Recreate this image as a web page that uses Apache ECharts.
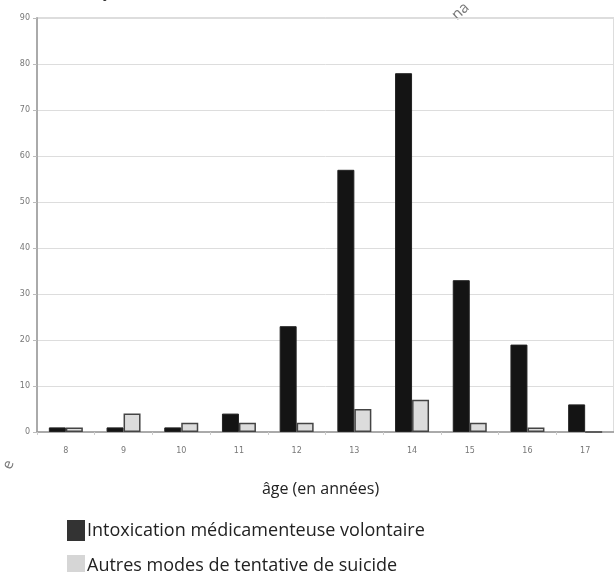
<!DOCTYPE html>
<html>
<head>
<meta charset="utf-8">
<script src="https://cdn.jsdelivr.net/npm/echarts@6/dist/echarts.min.js"></script>
<style>
html,body{margin:0;padding:0;background:#fff;}
#c{width:614px;height:572px;}
</style>
</head>
<body>
<div id="c"></div>
<script>
const categories = ['8','9','10','11','12','13','14','15','16','17'];
const seriesNames = ['Intoxication médicamenteuse volontaire', 'Autres modes de tentative de suicide'];
const intoxication = [1, 1, 1, 4, 23, 57, 78, 33, 19, 6];
const autres = [1, 4, 2, 2, 2, 5, 7, 2, 1, 0];
const yTicks = [0, 10, 20, 30, 40, 50, 60, 70, 80, 90];
const xAxisName = 'âge (en années)';
const yAxisName = 'Nombre de sujets';

const legendCommon = {
  orient: 'horizontal',
  left: 62,
  icon: 'rect',
  itemWidth: 18,
  itemHeight: 21,
  textStyle: {fontFamily: 'Open Sans', fontSize: 18, color: '#222', padding: [0, 0, 0, -3]}
};

const chart = echarts.init(document.getElementById('c'), null, {renderer: 'canvas'});
chart.setOption({
  animation: false,
  backgroundColor: '#fff',
  grid: {left: 37, top: 18, bottom: 140, right: -10, show: true, borderColor: '#bbb', borderWidth: 1, backgroundColor: 'transparent'},
  xAxis: {
    type: 'category',
    data: categories,
    name: xAxisName,
    nameLocation: 'middle',
    nameGap: 49,
    nameTextStyle: {fontFamily: 'Open Sans', fontSize: 16, color: '#222', padding: [0, 0, 0, -10]},
    axisLine: {lineStyle: {color: '#999', width: 1.5}},
    axisTick: {show: true, length: 3, lineStyle: {color: '#ccc'}},
    axisLabel: {fontFamily: 'DejaVu Sans', fontSize: 8, color: '#777', margin: 15}
  },
  yAxis: {
    type: 'value',
    min: yTicks[0],
    max: yTicks[yTicks.length - 1],
    interval: 10,
    axisLine: {show: true, lineStyle: {color: '#aaa', width: 2}},
    axisTick: {show: true, length: 4, lineStyle: {color: '#bbb'}},
    axisLabel: {fontFamily: 'DejaVu Sans', fontSize: 8, color: '#777', margin: 7},
    splitLine: {lineStyle: {color: '#ddd', width: 1}}
  },
  legend: [
    Object.assign({}, legendCommon, {
      top: 515,
      data: [{name: seriesNames[0], itemStyle: {color: '#333', borderWidth: 0}}]
    }),
    Object.assign({}, legendCommon, {
      top: 550,
      data: [{name: seriesNames[1], itemStyle: {color: '#d6d6d6', borderWidth: 0}}]
    })
  ],
  series: [
    {
      name: seriesNames[0],
      type: 'bar',
      data: intoxication,
      barWidth: 17,
      barGap: '0%',
      itemStyle: {color: '#141414', borderColor: '#222', borderWidth: 1}
    },
    {
      name: seriesNames[1],
      type: 'bar',
      data: autres,
      barWidth: 17,
      itemStyle: {color: '#dcdcdc', borderColor: '#444', borderWidth: 1.5}
    }
  ],
  graphic: [
    {type: 'text', left: -2, top: -16, style: {text: yAxisName, font: '16px "Open Sans"', fill: '#333'}},
    {type: 'text', x: 449, y: 12, rotation: 0.75, style: {text: 'na', font: '15px "Open Sans"', fill: '#777'}},
    {type: 'text', x: 0, y: 466, rotation: 1.2, style: {text: 'e', font: '15px "Open Sans"', fill: '#777'}}
  ]
});
</script>
</body>
</html>
